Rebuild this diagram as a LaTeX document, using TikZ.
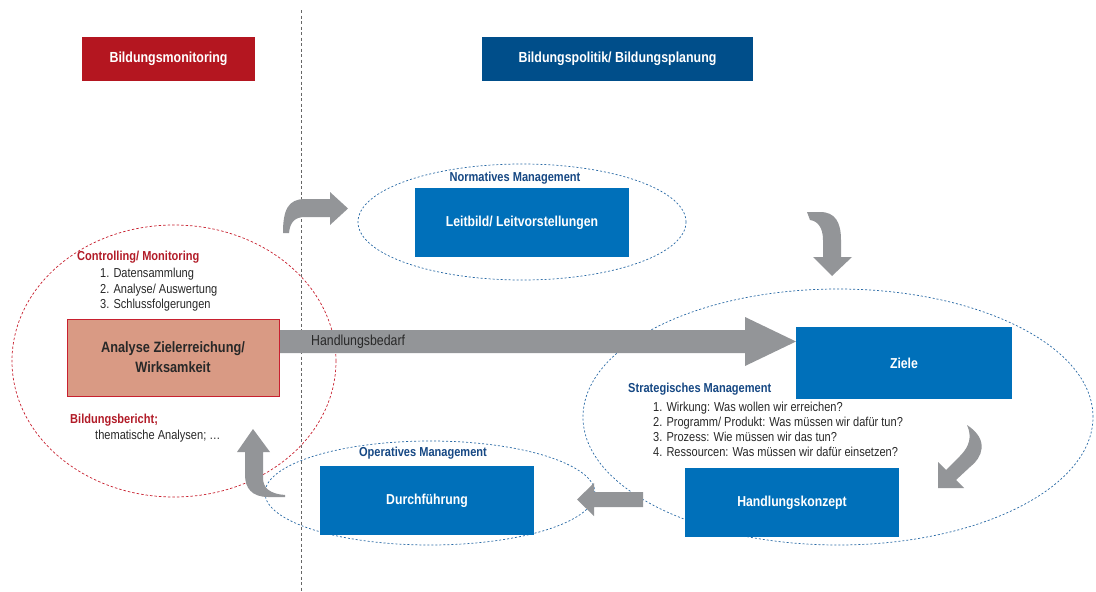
\documentclass[tikz,border=0pt]{standalone}
\usepackage{fontspec}
\setmainfont{Liberation Sans}[FakeStretch=0.85]
\definecolor{hdred}{RGB}{180,22,32}
\definecolor{hdblue}{RGB}{0,78,138}
\definecolor{boxblue}{RGB}{0,112,186}
\definecolor{lblblue}{RGB}{22,72,132}
\definecolor{txtred}{RGB}{178,28,40}
\definecolor{salmon}{RGB}{217,154,132}
\definecolor{agray}{RGB}{147,149,152}
\definecolor{elblue}{RGB}{40,105,165}
\definecolor{elred}{RGB}{200,32,47}
\definecolor{txtdark}{RGB}{40,40,40}
\begin{document}
\begin{tikzpicture}[x=1pt,y=-1pt,
  header/.style={draw=none,text=white,font=\fontsize{14.6}{16}\selectfont\bfseries,inner sep=0pt},
  bluebox/.style={fill=boxblue,draw=none,text=white,font=\fontsize{14.4}{16}\selectfont\bfseries,minimum width=214pt,minimum height=69pt,inner sep=0pt},
  mgmt/.style={text=lblblue,font=\fontsize{13}{15}\selectfont\bfseries,inner sep=0pt},
  redlbl/.style={text=txtred,font=\fontsize{13}{15}\selectfont\bfseries,inner sep=0pt,anchor=west},
  listtxt/.style={text=txtdark,font=\fontsize{13}{15}\selectfont,inner sep=0pt,align=left,anchor=north west},
  blueell/.style={draw=elblue,line width=0.7pt,dash pattern=on 2pt off 2pt},
  redell/.style={draw=elred,line width=0.7pt,dash pattern=on 2.5pt off 2pt},
  blockarrow/.style={fill=agray,draw=none}]
\useasboundingbox (0,0) rectangle (1096,592);
\fill[white] (0,0) rectangle (1096,592);

% divider
\coordinate (vtop) at (301,10);
\coordinate (vbot) at (301,592);
\draw[gray!80!black,line width=1pt,dash pattern=on 3pt off 2.5pt] (vtop) -- (vbot);

% ellipses
\coordinate (eN) at (522,222);
\coordinate (eR) at (174,361);
\coordinate (eS) at (838,417);
\coordinate (eO) at (430,493);
\draw[blueell] (eN) ellipse [x radius=164pt, y radius=58pt];
\draw[redell] (eR) ellipse [x radius=162pt, y radius=136pt];
\draw[blueell] (eS) ellipse [x radius=255pt, y radius=128pt];
\draw[blueell] (eO) ellipse [x radius=165pt, y radius=52pt];

% headers
\node[header,fill=hdred,minimum width=173pt,minimum height=44pt] (hmon) at (168.5,59) {Bildungsmonitoring};
\node[header,fill=hdblue,minimum width=271pt,minimum height=44pt] (hpol) at (617.5,59) {Bildungspolitik/ Bildungsplanung};

% big arrow Handlungsbedarf
\fill[blockarrow] (279,330) -- (745,330) -- (745,317) -- (796,341.5) -- (745,366) -- (745,353) -- (279,353) -- cycle;
\node[text=txtdark,font=\fontsize{14.5}{16}\selectfont,inner sep=0pt,anchor=west] (hb) at (311,341.5) {Handlungsbedarf};

% boxes
\node[bluebox] (leit) at (522,222.5) {Leitbild/ Leitvorstellungen};
\node[fill=salmon,draw=elred,line width=0.8pt,text=txtdark,font=\fontsize{15}{20}\selectfont\bfseries,minimum width=212pt,minimum height=77pt,inner sep=0pt,align=center] (ana) at (173,357.5) {Analyse Zielerreichung/\\Wirksamkeit};
\node[bluebox,minimum width=216pt,minimum height=72pt] (ziele) at (904,363) {Ziele};
\node[bluebox] (hk) at (792,502.5) {Handlungskonzept};
\node[bluebox] (df) at (427,500.5) {Durchführung};

% labels
\node[mgmt] (lnorm) at (515,178) {Normatives Management};
\node[mgmt,anchor=west] (lstrat) at (628,389) {Strategisches Management};
\node[mgmt] (lop) at (423,453) {Operatives Management};
\node[listtxt] (lstratl) at (653,402) {1. Wirkung: Was wollen wir erreichen?\\2. Programm/ Produkt: Was müssen wir dafür tun?\\3. Prozess: Wie müssen wir das tun?\\4. Ressourcen: Was müssen wir dafür einsetzen?};

\node[redlbl] (lctrl) at (77,257) {Controlling/ Monitoring};
\node[listtxt,font=\fontsize{13}{15.5}\selectfont] (lctrll) at (100,268) {1. Datensammlung\\2. Analyse/ Auswertung\\3. Schlussfolgerungen};
\node[redlbl] (lbb) at (70,420) {Bildungsbericht;};
\node[text=txtdark,font=\fontsize{13}{15}\selectfont,inner sep=0pt,anchor=west] (lthem) at (95,436) {thematische Analysen; …};

% curved block arrows
\fill[blockarrow] (283,233) .. controls (283,210) and (288,199) .. (305,199) -- (330,199) -- (330,192) -- (348,208.5) -- (330,225) -- (330,217) -- (305,217) .. controls (295,217) and (290,222) .. (289,233) -- cycle;
\fill[blockarrow] (807,212) -- (820,212) .. controls (835,212) and (841,222) .. (841,240) -- (841,257) -- (852,257) -- (832,276) -- (813,257) -- (823,257) -- (823,240) .. controls (823,228) and (818,221) .. (810,220) -- cycle;
\fill[blockarrow] (967,425) .. controls (990,440) and (982,458) .. (970,467) -- (956,480) -- (964,488) -- (938,488) -- (938,462) -- (946,470) -- (960,456) .. controls (970,446) and (972,436) .. (967,425) -- cycle;
\fill[blockarrow] (643,492) -- (594,492) -- (594,483) -- (577,499.5) -- (594,516) -- (594,507) -- (643,507) -- cycle;
\fill[blockarrow] (253,429) -- (270,452) -- (263,452) -- (263,478) .. controls (263,488) and (270,494) .. (285,495) -- (285,497) -- (268,497) .. controls (252,497) and (245,488) .. (245,475) -- (245,452) -- (237,452) -- cycle;
\end{tikzpicture}
\end{document}
